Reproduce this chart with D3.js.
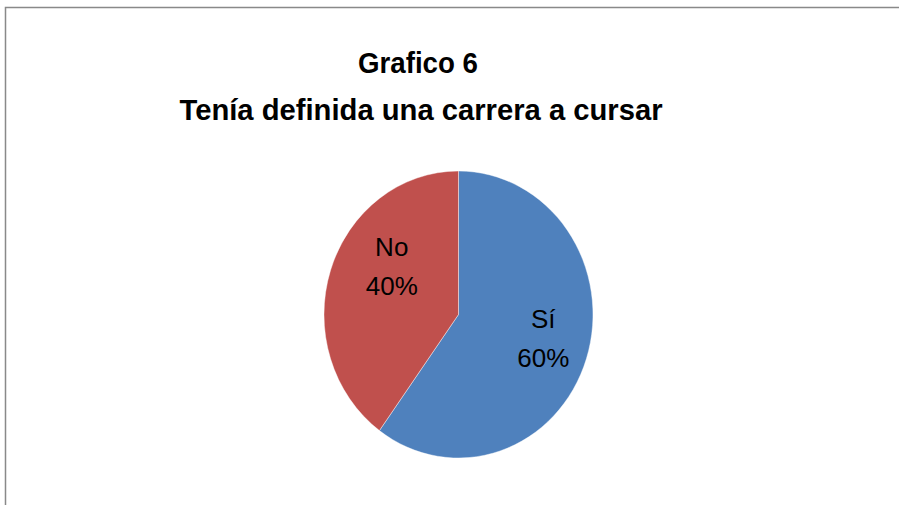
<!DOCTYPE html>
<html>
<head>
<meta charset="utf-8">
<script src="https://d3js.org/d3.v7.min.js"></script>
<style>
  body { margin: 0; background: #fff; }
</style>
</head>
<body>
<div id="chart"></div>
<script>
// data
const categories = ["Sí", "No"];
const values = [60, 40];
const colors = ["#4F81BD", "#C0504D"];

const width = 899, height = 505;

const svg = d3.select("#chart")
  .append("svg")
  .attr("width", width)
  .attr("height", height);

// chart frame (runs off the right and bottom edges)
svg.append("rect")
  .attr("x", 5.5)
  .attr("y", 7.5)
  .attr("width", 1000)
  .attr("height", 1000)
  .attr("fill", "white")
  .attr("stroke", "#898989")
  .attr("stroke-width", 1.5);

// title
const title = svg.append("text")
  .attr("text-anchor", "middle")
  .style("font-family", "'Liberation Sans', Arial, sans-serif")
  .style("font-weight", "bold")
  .style("font-size", "29px")
  .attr("fill", "#000");
title.append("tspan").attr("x", 418).attr("y", 73).text("Grafico 6")
  .attr("textLength", 120).attr("lengthAdjust", "spacingAndGlyphs");
title.append("tspan").attr("x", 421).attr("y", 120).text("Tenía definida una carrera a cursar")
  .attr("textLength", 483).attr("lengthAdjust", "spacingAndGlyphs");

// pie (slightly stretched vertically, as in the original)
const cx = 458.5, cy = 314.5, rx = 134.5, ry = 143.5;

const pie = d3.pie().sort(null).value(d => d.value);
const arcs = pie(categories.map((c, i) => ({ name: c, value: values[i] })));

const arc = d3.arc().innerRadius(0).outerRadius(1);
const labelArc = d3.arc().innerRadius(0.6).outerRadius(0.6);

const g = svg.append("g")
  .attr("transform", `translate(${cx},${cy})`);

g.append("g")
  .attr("transform", `scale(${rx},${ry})`)
  .selectAll("path")
  .data(arcs)
  .join("path")
    .attr("d", arc)
    .attr("fill", (d, i) => colors[i])
    .attr("stroke", "#ffffff")
    .attr("stroke-opacity", 0.5)
    .attr("stroke-width", 0.006);

// labels
const nudges = [[8, -3], [10, -22]];
const labels = g.selectAll("text.lbl")
  .data(arcs)
  .join("text")
    .attr("class", "lbl")
    .attr("text-anchor", "middle")
    .style("font-family", "'Liberation Sans', Arial, sans-serif")
    .style("font-size", "26px")
    .attr("fill", "#000")
    .attr("transform", (d, i) => {
      const [x, y] = labelArc.centroid(d);
      return `translate(${x * rx + nudges[i][0]},${y * ry + nudges[i][1]})`;
    });

labels.append("tspan").attr("x", 0).attr("y", -10).text(d => d.data.name);
labels.append("tspan").attr("x", 0).attr("y", 29)
  .text(d => Math.round(d.value / d3.sum(values) * 100) + "%");
</script>
</body>
</html>
